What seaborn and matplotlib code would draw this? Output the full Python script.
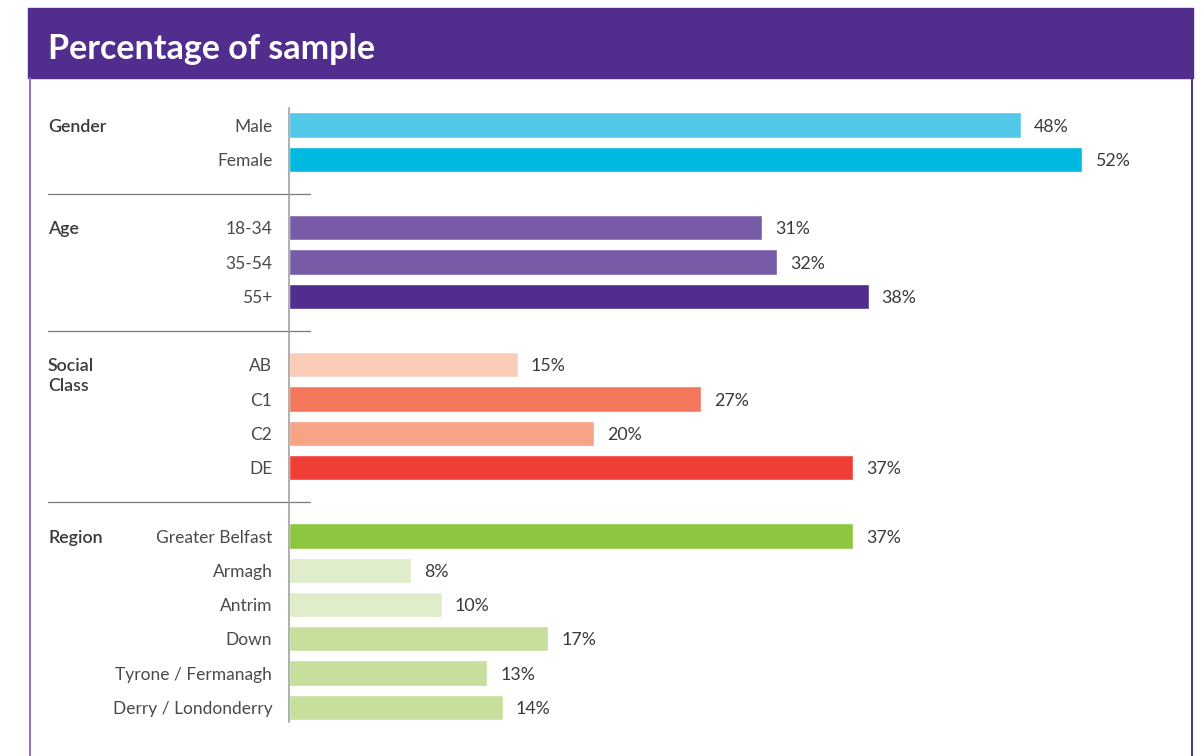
import matplotlib
matplotlib.use("Agg")
import matplotlib.pyplot as plt
import matplotlib.transforms as mtransforms
from matplotlib.patches import Rectangle
from matplotlib.lines import Line2D
import pandas as pd
import seaborn as sns

# ---- data -------------------------------------------------------------
gender_labels = ["Male", "Female"]
gender_values = [48, 52]
age_labels = ["18-34", "35-54", "55+"]
age_values = [31, 32, 38]
class_labels = ["AB", "C1", "C2", "DE"]
class_values = [15, 27, 20, 37]
region_labels = ["Greater Belfast", "Armagh", "Antrim", "Down",
                 "Tyrone / Fermanagh", "Derry / Londonderry"]
region_values = [37, 8, 10, 17, 13, 14]

group_names = ["Gender", "Age", "Social\nClass", "Region"]
group_labels = [gender_labels, age_labels, class_labels, region_labels]
group_values = [gender_values, age_values, class_values, region_values]

bar_colors = {
    "Male": "#52c8e8", "Female": "#00b9e0",
    "18-34": "#775ba7", "35-54": "#775ba7", "55+": "#512d8e",
    "AB": "#fbcdb9", "C1": "#f3775c", "C2": "#f6a386", "DE": "#ee3e36",
    "Greater Belfast": "#8dc63f", "Armagh": "#dfedcb", "Antrim": "#dfedcb",
    "Down": "#c6df9c", "Tyrone / Fermanagh": "#c6df9c",
    "Derry / Londonderry": "#c6df9c",
}

# ---- style ------------------------------------------------------------
sns.set_theme(style="white")
plt.rcParams["font.family"] = ["Lato", "DejaVu Sans"]
TEXT = "#3a3a3a"
TICK_TEXT = "#4a4a4a"
PURPLE = "#512d8e"
FS = 12.8

W, H = 1201, 756
fig = plt.figure(figsize=(W / 100, H / 100), dpi=100)
fig.patch.set_facecolor("white")

# long table plus one empty slot between groups for the divider lines
rows = []
order = []
group_first_slot = []
divider_slots = []
for gi, (labels, values) in enumerate(zip(group_labels, group_values)):
    if gi > 0:
        spacer = " " * gi
        divider_slots.append(len(order))
        order.append(spacer)
    group_first_slot.append(len(order))
    for lab, val in zip(labels, values):
        rows.append({"label": lab, "value": val})
        order.append(lab)
df = pd.DataFrame(rows)

# axes: origin at x=289px, right edge at the frame; ~15.25 px per percent
x0_px, x1_px = 289, 1191
top_px, bot_px = 108, 722
row0_px, step_px = 125, 34.25
ax = fig.add_axes([x0_px / W, 1 - bot_px / H, (x1_px - x0_px) / W,
                   (bot_px - top_px) / H])
ax.set_facecolor("none")

sns.barplot(data=df, x="value", y="label", order=order, hue="label",
            palette=bar_colors, dodge=False, legend=False, width=0.73,
            orient="h", saturation=1, ax=ax)

ax.set_xlim(0, (x1_px - x0_px) / 15.25)
ax.set_ylim((bot_px - row0_px) / step_px, (top_px - row0_px) / step_px)
ax.set_xlabel("")
ax.set_ylabel("")
ax.set_xticks([])
ax.tick_params(axis="y", length=0, pad=12, labelsize=12.5,
               labelcolor=TICK_TEXT)
for t in ax.get_yticklabels():
    t.set_verticalalignment("center_baseline")
for s in ["top", "right", "bottom"]:
    ax.spines[s].set_visible(False)
ax.spines["left"].set_color("#9a9a9a")
ax.spines["left"].set_linewidth(1.1)

for c in ax.containers:
    vals = c.datavalues
    texts = ax.bar_label(c, labels=[f"{v:.0f}%" for v in vals], padding=9.5,
                         fontsize=FS, color=TEXT)
    for t in texts:
        t.set_verticalalignment("center_baseline")

# group headings and divider lines
trans = mtransforms.blended_transform_factory(fig.transFigure, ax.transData)
for name, slot in zip(group_names, group_first_slot):
    parts = name.split("\n")
    for li, part in enumerate(parts):
        ax.text(48 / W, slot + li * 20 / step_px, part, transform=trans,
                ha="left", va="center_baseline", fontsize=FS, color=TEXT,
                fontweight="semibold", clip_on=False)
for slot in divider_slots:
    ax.add_line(Line2D([48 / W, 310 / W], [slot, slot], transform=trans,
                       color="#7a7a7a", lw=0.9, clip_on=False))

# header band and frame
fig.patches.append(Rectangle((28 / W, 1 - 78 / H), (1193 - 28) / W, 70 / H,
                             transform=fig.transFigure, color=PURPLE,
                             zorder=0))
fig.text(48 / W, 1 - 46 / H, "Percentage of sample", color="white",
         fontsize=24.5, fontweight="bold", ha="left", va="center_baseline")
fig.add_artist(Line2D([29.5 / W, 29.5 / W], [0, 1 - 78 / H],
                      transform=fig.transFigure, color="#8b6fc6", lw=1.4))
fig.add_artist(Line2D([1191.5 / W, 1191.5 / W], [0, 1 - 78 / H],
                      transform=fig.transFigure, color=PURPLE, lw=1.4))

fig.savefig("out.png", dpi=100, facecolor="white")
